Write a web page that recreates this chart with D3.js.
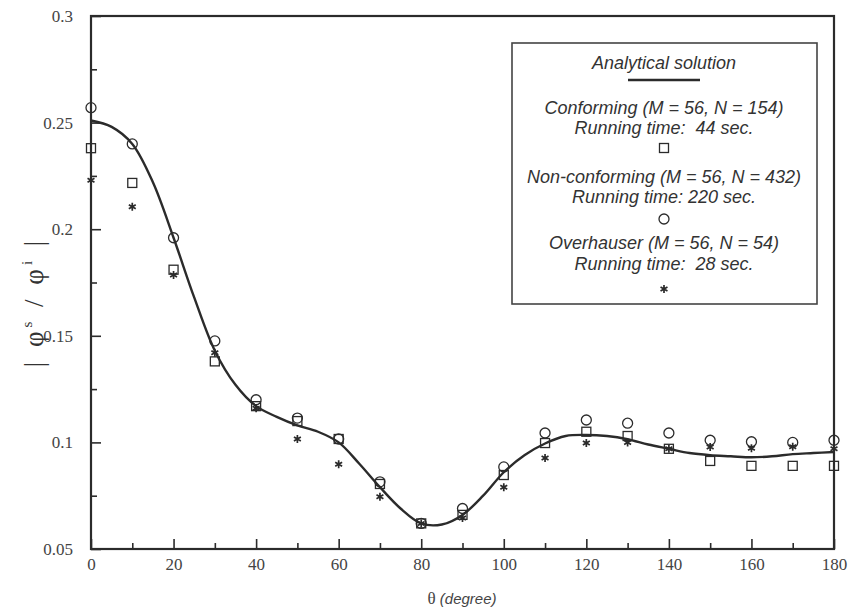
<!DOCTYPE html>
<html>
<head>
<meta charset="utf-8">
<script src="https://cdn.jsdelivr.net/npm/d3@7"></script>
<style>
  html, body { margin: 0; padding: 0; background: #fff; }
  svg { display: block; }
</style>
</head>
<body>
<svg id="chart" width="851" height="615"></svg>
<script>
// ---- data ----
const angles = [0,10,20,30,40,50,60,70,80,90,100,110,120,130,140,150,160,170,180];
const conforming    = [0.238,0.2217,0.181,0.138,0.117,0.110,0.1016,0.0805,0.062,0.066,0.0847,0.0997,0.105,0.103,0.097,0.0913,0.089,0.089,0.089];
const nonConforming = [0.257,0.240,0.196,0.1476,0.120,0.1114,0.1016,0.0815,0.062,0.069,0.0885,0.1044,0.1105,0.109,0.1044,0.101,0.1003,0.100,0.101];
const overhauser    = [0.223,0.2105,0.1785,0.142,0.116,0.1016,0.0898,0.0745,0.062,0.0645,0.079,0.0927,0.0997,0.100,0.097,0.0978,0.0973,0.098,0.097];
const analyticAngles = [0,5,10,15,20,25,30,35,40,45,50,55,60,65,70,75,80,85,90,95,100,105,110,115,120,125,130,135,140,145,150,155,160,165,170,175,180];
const analyticValues = [0.251,0.248,0.240,0.222,0.196,0.168,0.143,0.127,0.117,0.112,0.108,0.105,0.100,0.090,0.079,0.069,0.062,0.0615,0.066,0.075,0.086,0.094,0.0995,0.103,0.1035,0.103,0.1015,0.099,0.097,0.095,0.094,0.0935,0.093,0.0935,0.0945,0.095,0.0955];
const xTicks = [0,20,40,60,80,100,120,140,160,180];
const xMinorTicks = [10,30,50,70,90,110,130,150,170];
const yTicks = [0.05,0.1,0.15,0.2,0.25,0.3];
const yMinorTicks = [0.075,0.125,0.175,0.225,0.275];
const legendLines = [
  "Conforming (M = 56, N = 154)", "Running time:  44 sec.",
  "Non-conforming (M = 56, N = 432)", "Running time: 220 sec.",
  "Overhauser (M = 56, N = 54)", "Running time:  28 sec."
];

// ---- layout ----
const L = 91, R = 834, T = 16, B = 549;
const ink = "#2b2b2b";
const svg = d3.select("#chart");
const x = d3.scaleLinear().domain([0,180]).range([L,R]);
const y = d3.scaleLinear().domain([0.05,0.3]).range([B,T]);

// axes
const yAxis = svg.append("g").attr("transform",`translate(${L},0)`)
  .call(d3.axisLeft(y).tickValues(yTicks).tickSize(-10).tickPadding(18)
        .tickFormat(d => d3.format("")(+d.toFixed(3))));
const yMinor = svg.append("g").attr("transform",`translate(${L},0)`)
  .call(d3.axisLeft(y).tickValues(yMinorTicks).tickSize(-6).tickFormat(""));
const xAxis = svg.append("g").attr("transform",`translate(0,${B})`)
  .call(d3.axisBottom(x).tickValues(xTicks).tickSize(-10).tickPadding(9));
const xMinor = svg.append("g").attr("transform",`translate(0,${B})`)
  .call(d3.axisBottom(x).tickValues(xMinorTicks).tickSize(-6).tickFormat(""));
[yAxis,yMinor,xAxis,xMinor].forEach(g => {
  g.select(".domain").remove();
  g.selectAll(".tick line").attr("stroke",ink).attr("stroke-width",1.6);
  g.selectAll("text").attr("font-family","'Liberation Serif', serif")
    .attr("font-size",17).attr("fill","#444");
});

// frame
svg.append("rect").attr("x",L).attr("y",T).attr("width",R-L).attr("height",B-T)
  .attr("fill","none").attr("stroke",ink).attr("stroke-width",2.2);

// analytical line
const line = d3.line().x((d,i)=>x(analyticAngles[i])).y(d=>y(d)).curve(d3.curveCatmullRom);
svg.append("path").datum(analyticValues).attr("d",line)
  .attr("fill","none").attr("stroke",ink).attr("stroke-width",2.4);

// markers
const starPath = s => {
  let p = "";
  [90,30,150].forEach(a => {
    const r = a*Math.PI/180, dx = Math.cos(r)*s, dy = Math.sin(r)*s;
    p += `M${-dx},${-dy}L${dx},${dy}`;
  });
  return p;
};
function drawSquare(g, cx, cy){ g.append("rect").attr("x",cx-4.5).attr("y",cy-4.5).attr("width",9).attr("height",9)
  .attr("fill","none").attr("stroke",ink).attr("stroke-width",1.3); }
function drawCircle(g, cx, cy){ g.append("circle").attr("cx",cx).attr("cy",cy).attr("r",5)
  .attr("fill","none").attr("stroke",ink).attr("stroke-width",1.3); }
function drawStar(g, cx, cy){ g.append("path").attr("d",starPath(4)).attr("transform",`translate(${cx},${cy})`)
  .attr("fill","none").attr("stroke",ink).attr("stroke-width",1.7); }

const marks = svg.append("g");
angles.forEach((a,i) => drawSquare(marks, x(a), y(conforming[i])));
angles.forEach((a,i) => drawCircle(marks, x(a), y(nonConforming[i])));
angles.forEach((a,i) => drawStar(marks, x(a), y(overhauser[i])));

// legend
const lg = svg.append("g");
lg.append("rect").attr("x",512).attr("y",43).attr("width",305).attr("height",261)
  .attr("fill","#fff").attr("stroke","#444").attr("stroke-width",1.6);
const cx = 664;
const lt = (txt, yy) => lg.append("text").attr("x",cx).attr("y",yy).attr("text-anchor","middle")
  .attr("font-family","'Liberation Sans', Arial, sans-serif").attr("font-style","italic")
  .attr("font-size",18).attr("fill","#333").style("white-space","pre").text(txt);
lt("Analytical solution", 69);
lg.append("line").attr("x1",628).attr("x2",700).attr("y1",80).attr("y2",80)
  .attr("stroke",ink).attr("stroke-width",2.4);
lt(legendLines[0],114); lt(legendLines[1],134); drawSquare(lg, cx, 148);
lt(legendLines[2],183); lt(legendLines[3],203); drawCircle(lg, cx, 219);
lt(legendLines[4],249); lt(legendLines[5],270); drawStar(lg, cx, 289);

// axis titles
const yl = svg.append("text").attr("transform","translate(43,302) rotate(-90)")
  .attr("text-anchor","middle").attr("font-family","'Liberation Serif', serif")
  .attr("font-size",27).attr("letter-spacing",4).attr("fill","#333").style("white-space","pre");
yl.append("tspan").text("| φ");
yl.append("tspan").attr("font-size",15).attr("dy",-11).text("s");
yl.append("tspan").attr("dy",11).text(" / φ");
yl.append("tspan").attr("font-size",15).attr("dy",-11).text("i");
yl.append("tspan").attr("dy",11).text(" |");

const xl = svg.append("text").attr("x",462).attr("y",604).attr("text-anchor","middle")
  .attr("fill","#444").attr("font-size",15);
xl.append("tspan").attr("font-family","'Liberation Serif', serif").attr("font-size",17).text("θ ");
xl.append("tspan").attr("font-family","'Liberation Sans', sans-serif").attr("font-style","italic").text("(degree)");
</script>
</body>
</html>
